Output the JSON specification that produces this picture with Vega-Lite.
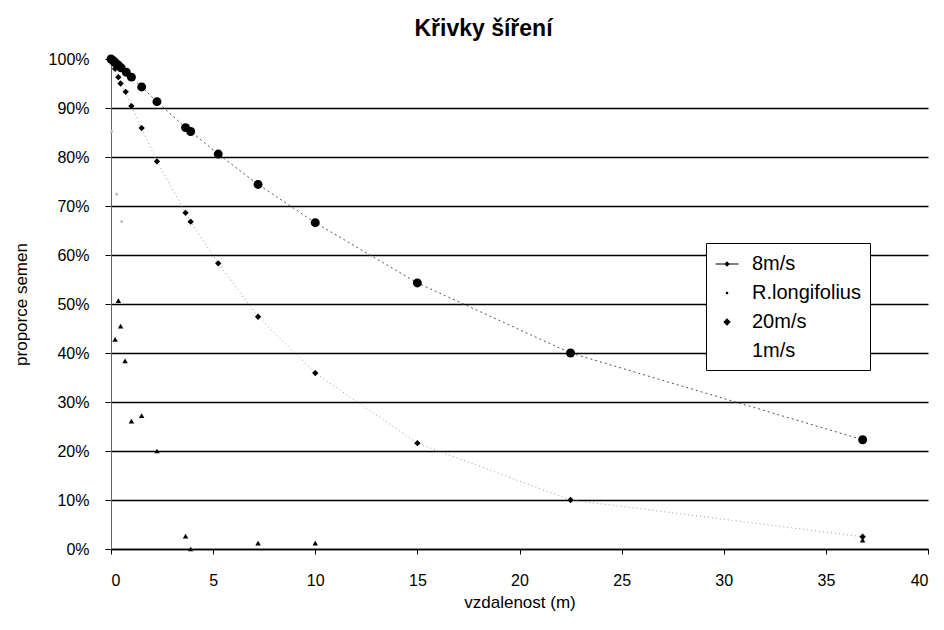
{
  "$schema": "https://vega.github.io/schema/vega-lite/v6.json",
  "width": 817,
  "height": 490,
  "autosize": {"type": "none"},
  "padding": {"left": 111, "top": 59, "right": 16, "bottom": 81},
  "background": "white",
  "config": {
    "font": "Liberation Sans",
    "view": {"stroke": null}
  },
  "title": {
    "text": "Křivky šíření",
    "fontSize": 23,
    "fontWeight": "bold",
    "font": "Liberation Sans",
    "color": "black",
    "dx": -36,
    "offset": 10
  },
  "datasets": {
    "main": [
      {"series": "20m/s", "d": 0, "p": 1.0},
      {"series": "20m/s", "d": 0.1, "p": 0.997},
      {"series": "20m/s", "d": 0.2, "p": 0.993},
      {"series": "20m/s", "d": 0.35, "p": 0.988},
      {"series": "20m/s", "d": 0.5, "p": 0.982},
      {"series": "20m/s", "d": 0.75, "p": 0.973},
      {"series": "20m/s", "d": 1.0, "p": 0.963},
      {"series": "20m/s", "d": 1.5, "p": 0.943},
      {"series": "20m/s", "d": 2.25, "p": 0.913},
      {"series": "20m/s", "d": 3.65, "p": 0.86},
      {"series": "20m/s", "d": 3.9, "p": 0.852},
      {"series": "20m/s", "d": 5.25, "p": 0.806},
      {"series": "20m/s", "d": 7.2, "p": 0.744},
      {"series": "20m/s", "d": 10, "p": 0.666},
      {"series": "20m/s", "d": 15, "p": 0.543},
      {"series": "20m/s", "d": 22.5, "p": 0.40},
      {"series": "20m/s", "d": 36.8, "p": 0.223},
      {"series": "8m/s", "d": 0, "p": 1.0},
      {"series": "8m/s", "d": 0.1, "p": 0.99},
      {"series": "8m/s", "d": 0.2, "p": 0.98},
      {"series": "8m/s", "d": 0.36, "p": 0.963},
      {"series": "8m/s", "d": 0.47, "p": 0.95},
      {"series": "8m/s", "d": 0.72, "p": 0.933},
      {"series": "8m/s", "d": 1.0, "p": 0.904},
      {"series": "8m/s", "d": 1.5, "p": 0.859},
      {"series": "8m/s", "d": 2.25, "p": 0.791},
      {"series": "8m/s", "d": 3.65, "p": 0.686},
      {"series": "8m/s", "d": 3.9, "p": 0.668},
      {"series": "8m/s", "d": 5.25, "p": 0.583},
      {"series": "8m/s", "d": 7.2, "p": 0.474},
      {"series": "8m/s", "d": 10, "p": 0.359},
      {"series": "8m/s", "d": 15, "p": 0.216},
      {"series": "8m/s", "d": 22.5, "p": 0.10},
      {"series": "8m/s", "d": 36.8, "p": 0.025},
      {"series": "R.longifolius", "d": 0.36, "p": 0.507},
      {"series": "R.longifolius", "d": 0.47, "p": 0.455},
      {"series": "R.longifolius", "d": 0.2, "p": 0.428},
      {"series": "R.longifolius", "d": 0.69, "p": 0.384},
      {"series": "R.longifolius", "d": 1.0, "p": 0.261},
      {"series": "R.longifolius", "d": 1.5, "p": 0.272},
      {"series": "R.longifolius", "d": 2.25, "p": 0.20},
      {"series": "R.longifolius", "d": 3.65, "p": 0.0265},
      {"series": "R.longifolius", "d": 3.9, "p": 0.0},
      {"series": "R.longifolius", "d": 7.2, "p": 0.012},
      {"series": "R.longifolius", "d": 10, "p": 0.012},
      {"series": "R.longifolius", "d": 36.8, "p": 0.018},
      {"series": "1m/s", "d": 0.03, "p": 0.852},
      {"series": "1m/s", "d": 0.28, "p": 0.724},
      {"series": "1m/s", "d": 0.52, "p": 0.668}
    ],
    "legendrows": [
      {"series": "8m/s", "d": 0, "p": 1.0},
      {"series": "R.longifolius", "d": 0, "p": 1.0},
      {"series": "20m/s", "d": 0, "p": 1.0},
      {"series": "1m/s", "d": 0, "p": 1.0}
    ]
  },
  "data": {"name": "main"},
  "encoding": {
    "x": {
      "field": "d",
      "type": "quantitative",
      "scale": {"domain": [0, 40], "nice": false, "zero": false},
      "axis": {
        "title": "vzdalenost (m)",
        "values": [0, 5, 10, 15, 20, 25, 30, 35, 40],
        "grid": false,
        "domainColor": "black",
        "domainWidth": 1.5,
        "tickColor": "black",
        "tickSize": 5,
        "labelPadding": 18,
        "labelFontSize": 16,
        "labelColor": "black",
        "titleFontSize": 17,
        "titleFontWeight": "normal",
        "titleColor": "black",
        "titlePadding": 6
      }
    },
    "y": {
      "field": "p",
      "type": "quantitative",
      "scale": {"domain": [0, 1], "nice": false},
      "axis": {
        "title": "proporce semen",
        "format": ".0%",
        "values": [0, 0.1, 0.2, 0.3, 0.4, 0.5, 0.6, 0.7, 0.8, 0.9, 1.0],
        "grid": true,
        "gridColor": "black",
        "gridWidth": 1.5,
        "gridOpacity": {"condition": {"test": "datum.value >= 1", "value": 0}, "value": 1},
        "domainColor": "#666",
        "tickColor": "black",
        "tickSize": 6,
        "labelPadding": 16,
        "labelFontSize": 16,
        "labelColor": "black",
        "titleFontSize": 17,
        "titleFontWeight": "normal",
        "titleColor": "black",
        "titlePadding": 18
      }
    }
  },
  "layer": [
    {
      "transform": [{"filter": "datum.series === '8m/s'"}],
      "mark": {"type": "line", "stroke": "#9a9a9a", "strokeWidth": 1, "strokeDash": [1, 3]}
    },
    {
      "transform": [{"filter": "datum.series === '20m/s'"}],
      "mark": {"type": "line", "stroke": "#555", "strokeWidth": 1, "strokeDash": [2, 3]}
    },
    {
      "transform": [{"filter": "datum.series === '1m/s'"}],
      "mark": {"type": "point", "shape": "circle", "filled": true, "color": "#bbb", "size": 8, "opacity": 1}
    },
    {
      "transform": [{"filter": "datum.series === 'R.longifolius'"}],
      "mark": {"type": "point", "shape": "triangle-up", "filled": true, "color": "black", "size": 30, "opacity": 1}
    },
    {
      "transform": [{"filter": "datum.series === '8m/s'"}],
      "mark": {"type": "point", "shape": "diamond", "filled": true, "color": "black", "size": 40, "opacity": 1}
    },
    {
      "transform": [{"filter": "datum.series === '20m/s'"}],
      "mark": {"type": "point", "shape": "circle", "filled": true, "color": "black", "size": 80, "opacity": 1}
    },
    {
      "data": {"name": "legendrows"},
      "mark": {"type": "point", "filled": true, "color": "black", "opacity": 0},
      "encoding": {
        "shape": {
          "field": "series",
          "type": "nominal",
          "scale": {
            "domain": ["8m/s", "R.longifolius", "20m/s", "1m/s"],
            "range": [
              "M-1,-0.05L1,-0.05L1,0.05L-1,0.05ZM-0.24,0L0,-0.24L0.24,0L0,0.24Z",
              "M-0.1,-0.1L0.1,-0.1L0.1,0.1L-0.1,0.1Z",
              "M-0.32,0L0,-0.32L0.32,0L0,0.32Z",
              "M0,0"
            ]
          },
          "legend": {
            "title": null,
            "orient": "none",
            "legendX": 595,
            "legendY": 184,
            "strokeColor": "black",
            "fillColor": "white",
            "padding": 9,
            "symbolSize": 529,
            "symbolOpacity": 1,
            "symbolFillColor": "black",
            "symbolStrokeColor": "black",
            "symbolStrokeWidth": 1,
            "labelFontSize": 20,
            "labelColor": "black",
            "labelOffset": 13,
            "rowPadding": 7,
            "encode": {
              "symbols": {
                "update": {
                  "fill": {"value": "black"},
                  "opacity": {"value": 1}
                }
              }
            }
          }
        }
      }
    }
  ]
}
